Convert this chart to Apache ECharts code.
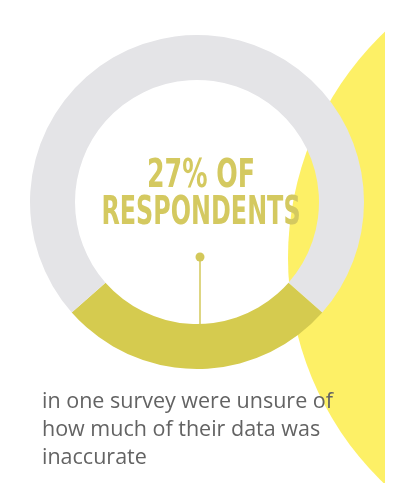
<!DOCTYPE html>
<html>
<head>
<meta charset="utf-8">
<script src="https://cdn.jsdelivr.net/npm/echarts@6/dist/echarts.min.js"></script>
<style>
html,body{margin:0;padding:0;background:#fff;}
#chart{width:398px;height:483px;}
</style>
</head>
<body>
<div id="chart"></div>
<script>
const categories = ['Unsure', 'Others'];
const values = [27, 73];
const headlineLines = ['27% OF', 'RESPONDENTS'];
const captionLines = ['in one survey were unsure of', 'how much of their data was', 'inaccurate'];

const chart = echarts.init(document.getElementById('chart'), null, {renderer: 'canvas'});
const cx = 197, cy = 202;
const share = values[0] / (values[0] + values[1]);
const startAngle = -90 + share * 180;

const headFont = '"Liberation Sans Narrow", "DejaVu Sans Condensed", "Roboto Condensed", sans-serif';
const graphics = [
  {type: 'circle', z: -10, silent: true, shape: {cx: 601, cy: 258, r: 313}, style: {fill: '#fdf066'}},
  {type: 'rect', z: -9, silent: true, shape: {x: 385, y: 0, width: 20, height: 483}, style: {fill: '#ffffff'}},
  {type: 'line', z: 20, silent: true, shape: {x1: 200, y1: 257, x2: 200, y2: 324}, style: {stroke: '#d3c85a', lineWidth: 1.5}},
  {type: 'circle', z: 20, silent: true, shape: {cx: 200, cy: 257, r: 4.5}, style: {fill: '#d3c85a'}}
];
headlineLines.forEach((t, i) => {
  graphics.push({
    type: 'text', z: 20, silent: true, x: 201, y: 177 + i * 37, scaleX: i === 0 ? 0.72 : 0.68, scaleY: 1,
    style: {text: t, fill: '#d4c960', font: 'bold 39px ' + headFont, align: 'center', verticalAlign: 'middle'}
  });
});
captionLines.forEach((t, i) => {
  graphics.push({
    type: 'text', z: 20, silent: true, x: 42, y: 402 + i * 28,
    style: {text: t, fill: '#636363', font: '21.5px "Open Sans", sans-serif', align: 'left', verticalAlign: 'middle'}
  });
});

chart.setOption({
  animation: false,
  backgroundColor: '#ffffff',
  series: [{
    type: 'pie',
    center: [cx, cy],
    radius: [122, 167],
    startAngle: startAngle,
    clockwise: true,
    label: {show: false},
    labelLine: {show: false},
    emphasis: {disabled: true},
    silent: true,
    data: categories.map((c, i) => ({
      name: c, value: values[i],
      itemStyle: {color: i === 0 ? '#d5cb4f' : '#e4e4e7'}
    }))
  }],
  graphic: graphics
});
</script>
</body>
</html>
